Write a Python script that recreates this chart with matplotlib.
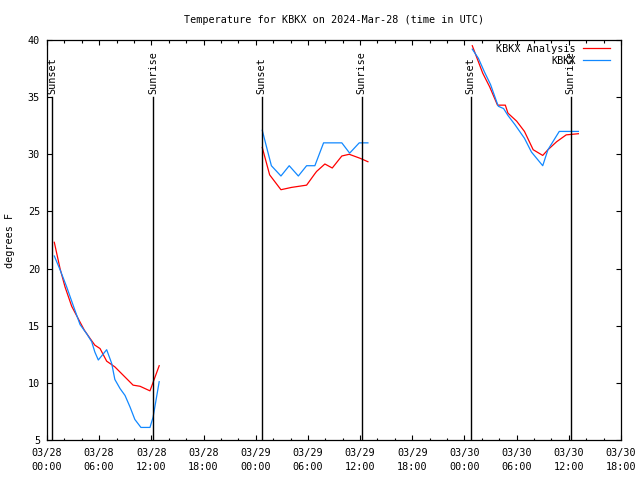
import matplotlib
matplotlib.use("Agg")
import matplotlib.pyplot as plt
import numpy as np

# ── Data (hours since 2024-03-28 00:00 UTC) ─────────────────────────────────
# NaN separates the three overnight segments
anl_hours = [0.84, 1.5, 2.07, 2.84, 3.6, 4.3, 4.94, 5.5, 6.1, 6.86, 7.8, 9.9, 10.7, 11.84, 12.9,
             np.nan,
             24.75, 25.6, 26.2, 26.9, 28.1, 29.85, 30.8, 31.0, 31.95, 32.8, 33.9, 34.75, 36.0, 36.9,
             np.nan,
             48.9, 49.6, 50.1, 50.9, 51.8, 52.7, 53.0, 54.0, 54.9, 55.9, 57.0, 57.6, 58.6, 59.7, 61.1]
anl_temp = [22.3, 20.0, 18.4, 16.7, 15.6, 14.6, 13.9, 13.3, 13.0, 11.9, 11.4, 9.8, 9.7, 9.3, 11.5,
            np.nan,
            30.6, 28.2, 27.6, 26.9, 27.1, 27.3, 28.3, 28.5, 29.15, 28.8, 29.85, 30.0, 29.65, 29.35,
            np.nan,
            39.5, 38.1, 37.1, 35.9, 34.3, 34.3, 33.6, 32.9, 32.0, 30.4, 29.9, 30.4, 31.1, 31.7, 31.8]

obs_hours = [0.84, 1.5, 2.26, 3.0, 3.8, 4.56, 5.14, 5.5, 5.9, 6.86, 7.44, 7.8, 8.4, 8.97, 9.54,
             10.1, 10.8, 11.84, 12.2, 12.9,
             np.nan,
             24.75, 25.8, 26.9, 27.85, 28.9, 29.85, 30.8, 31.8, 33.9, 34.8, 35.9, 36.9,
             np.nan,
             48.9, 49.6, 50.3, 51.0, 51.7, 51.9, 52.5, 53.0, 53.8, 54.9, 55.7, 57.0, 57.6, 58.9, 61.1]
obs_temp = [21.1, 19.9, 18.4, 16.8, 15.1, 14.3, 13.6, 12.7, 12.0, 12.9, 11.7, 10.3, 9.5, 8.9, 7.9,
            6.8, 6.1, 6.1, 7.0, 10.1,
            np.nan,
            32.1, 29.0, 28.1, 29.0, 28.1, 29.0, 29.0, 31.0, 31.0, 30.1, 31.0, 31.0,
            np.nan,
            39.2, 38.4, 37.2, 36.1, 34.6, 34.2, 34.0, 33.4, 32.6, 31.4, 30.2, 29.0, 30.4, 32.0, 32.0]

sunset_hours = [0.6, 24.7, 48.7]
sunrise_hours = [12.2, 36.2, 60.2]

x_ticks = [0, 6, 12, 18, 24, 30, 36, 42, 48, 54, 60, 66]
x_labels = ["03/28\n00:00", "03/28\n06:00", "03/28\n12:00", "03/28\n18:00",
            "03/29\n00:00", "03/29\n06:00", "03/29\n12:00", "03/29\n18:00",
            "03/30\n00:00", "03/30\n06:00", "03/30\n12:00", "03/30\n18:00"]

# ── Style ────────────────────────────────────────────────────────────────────
FONT = "DejaVu Sans Mono"
FS = 7.3
RED = "#ff0000"
BLUE = "#1188ff"
LW = 0.9

plt.rcParams["font.family"] = FONT
plt.rcParams["font.size"] = FS

fig = plt.figure(figsize=(6.4, 4.8), dpi=100)
ax = fig.add_axes([47 / 640, 40 / 480, 574 / 640, 400 / 480])

ax.plot(anl_hours, anl_temp, color=RED, lw=LW, label="KBKX Analysis")
ax.plot(obs_hours, obs_temp, color=BLUE, lw=LW, label="KBKX")

for h in sunset_hours:
    ax.plot([h, h], [5, 35], color="black", lw=1.0)
    ax.text(h, 35.3, "Sunset", rotation=90, ha="center", va="bottom", fontsize=FS)
for h in sunrise_hours:
    ax.plot([h, h], [5, 35], color="black", lw=1.0)
    ax.text(h, 35.3, "Sunrise", rotation=90, ha="center", va="bottom", fontsize=FS)

ax.set_xlim(0, 66)
ax.set_ylim(5, 40)
ax.set_xticks(x_ticks)
ax.set_xticklabels(x_labels, linespacing=1.4)
ax.set_xticks(np.arange(0, 67, 2), minor=True)
ax.set_yticks(np.arange(5, 41, 5))

ax.tick_params(which="both", direction="in", top=True, right=True, width=0.8)
ax.tick_params(which="major", length=3.5, pad=5)
ax.tick_params(axis="x", which="major", pad=6)
ax.tick_params(which="minor", length=1.8)
for s in ax.spines.values():
    s.set_linewidth(0.9)

ax.legend(loc="upper right", bbox_to_anchor=(610 / 640, 1 - 44 / 480),
          bbox_transform=fig.transFigure, frameon=False, markerfirst=False,
          handlelength=2.7, handletextpad=0.7, labelspacing=0.2,
          borderpad=0, borderaxespad=0, fontsize=FS)

fig.text(334 / 640, 1 - 20 / 480, "Temperature for KBKX on 2024-Mar-28 (time in UTC)",
         ha="center", va="center", fontsize=FS)
fig.text(10 / 640, 0.5, "degrees F", rotation=90, ha="center", va="center", fontsize=FS)

fig.savefig("out.png", dpi=100)
